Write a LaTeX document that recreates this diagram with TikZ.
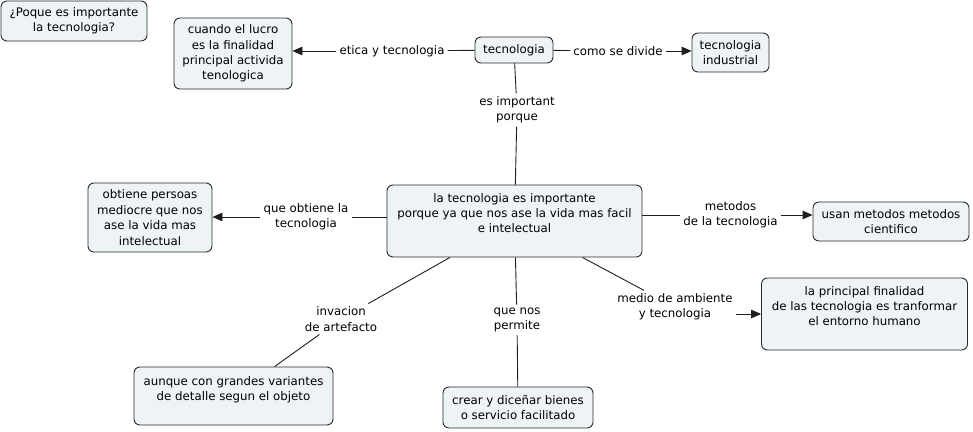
\documentclass[tikz,border=0pt]{standalone}
\usepackage{fontspec}
\setmainfont{DejaVu Sans}
\usetikzlibrary{arrows.meta}
\definecolor{boxfill}{HTML}{EEF3F6}
\definecolor{boxline}{HTML}{2A2A2A}
\definecolor{linecol}{HTML}{1E1E1E}
\begin{document}
\begin{tikzpicture}[x=1pt,y=-1pt,
  every node/.style={font=\fontsize{11.8pt}{15.4pt}\selectfont, align=center},
  concept/.style={draw=boxline, fill=boxfill, rounded corners=6pt, line width=0.9pt, inner sep=2pt},
  linklabel/.style={inner sep=3pt},
  conn/.style={draw=linecol, line width=0.9pt},
  arr/.style={conn, -{Triangle[length=10pt,width=8.5pt]}}]
\useasboundingbox (0,0) rectangle (973,431);
% concepts
\node[concept, minimum width=146pt, minimum height=40pt] (q) at (74,21) {¿Poque es importante\\la tecnologia?};
\node[concept, minimum width=118pt, minimum height=71pt] (lucro) at (233,53.5) {cuando el lucro\\es la finalidad\\principal activida\\tenologica};
\node[concept, minimum width=78pt, minimum height=26pt] (tec) at (514,50) {tecnologia};
\node[concept, minimum width=77pt, minimum height=39pt] (ind) at (730.5,52.5) {tecnologia\\industrial};
\node[concept, minimum width=255pt, minimum height=72pt, text depth=16pt] (main) at (514.5,221) {la tecnologia es importante\\porque ya que nos ase la vida mas facil\\e intelectual};
\node[concept, minimum width=124pt, minimum height=69pt] (obt) at (150,217.5) {obtiene persoas\\mediocre que nos\\ase la vida mas\\intelectual};
\node[concept, minimum width=156pt, minimum height=39pt] (usan) at (891,221.5) {usan metodos metodos\\cientifico};
\node[concept, minimum width=206pt, minimum height=72pt, text depth=16pt] (fin) at (864.5,314) {la principal finalidad\\de las tecnologia es tranformar\\el entorno humano};
\node[concept, minimum width=199pt, minimum height=58pt, text depth=15pt] (aunq) at (233.5,396) {aunque con grandes variantes\\de detalle segun el objeto};
\node[concept, minimum width=150pt, minimum height=41pt] (crear) at (518,407.5) {crear y diceñar bienes\\o servicio facilitado};
% link labels
\node[linklabel] (l1) at (392,51) {etica y tecnologia};
\node[linklabel] (l2) at (618,51) {como se divide};
\node[linklabel] (l3) at (517,110) {es important\\porque};
\node[linklabel] (l4) at (306,217) {que obtiene la\\tecnologia};
\node[linklabel] (l5) at (730.5,215) {metodos\\de la tecnologia};
\node[linklabel] (l6) at (675,307) {medio de ambiente\\y tecnologia};
\node[linklabel] (l7) at (341,319) {invacion\\de artefacto};
\node[linklabel] (l8) at (517,320) {que nos\\permite};
% connectors
\draw[conn] (tec) -- (l1);
\draw[arr] (l1) -- (l1 -| lucro.east);
\draw[conn] (tec) -- (l2);
\draw[arr] (l2) -- (l2 -| ind.west);
\draw[conn] (tec) -- (l3);
\draw[conn] (l3) -- (main);
\draw[conn] (main.west |- l4) -- (l4);
\draw[arr] (l4) -- (l4 -| obt.east);
\draw[conn] (main.east |- l5) -- (l5);
\draw[arr] (l5) -- (l5 -| usan.west);
\draw[conn] (main) -- (l6);
\draw[arr] (l6.east |- fin.west) -- (fin.west);
\draw[conn] (main) -- (l7);
\draw[conn] (l7) -- (aunq);
\draw[conn] (main) -- (l8);
\draw[conn] (l8) -- (crear);
\end{tikzpicture}
\end{document}
